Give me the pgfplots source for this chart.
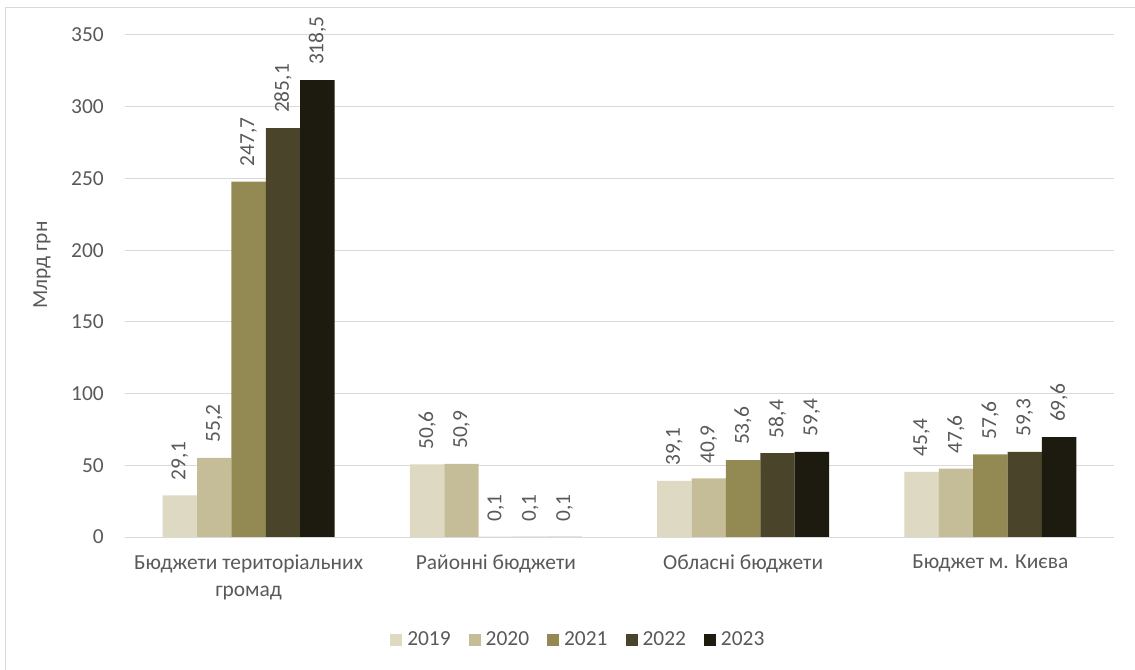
\documentclass[border=0pt]{standalone}
\usepackage{pgfplots}
\pgfplotsset{compat=1.18}
\usepackage{fontspec}
\setmainfont{Carlito}
\definecolor{txt}{HTML}{595959}
\definecolor{gridc}{HTML}{D9D9D9}
\definecolor{c19}{HTML}{DDD9C3}
\definecolor{c20}{HTML}{C4BD97}
\definecolor{c21}{HTML}{938953}
\definecolor{c22}{HTML}{4A452A}
\definecolor{c23}{HTML}{1D1B10}
\newcommand{\chfont}{\fontsize{21.5}{27}\selectfont}
\begin{document}
\chfont
\begin{tikzpicture}
\useasboundingbox (0,0) rectangle (1135bp,670bp);
\draw[gridc, line width=1bp] (5bp,0) -- (5bp,662bp) -- (1135bp,662bp);
\begin{axis}[
    at={(125bp,133bp)}, anchor=south west,
    scale only axis,
    width=989bp, height=502bp,
    ybar=0pt,
    bar width=0.139,
    xmin=-0.5, xmax=3.5,
    ymin=0, ymax=350,
    ytick distance=50,
    xtick=data,
    xticklabels={Бюджети територіальних\\громад, Районні бюджети, Обласні бюджети, Бюджет м. Києва},
    major tick length=0pt,
    axis line style={draw=none},
    ymajorgrids,
    grid style={gridc, line width=1bp},
    /pgf/number format/assume math mode=true,
    /pgf/number format/.cd, use comma, fixed, fixed zerofill, precision=1, 1000 sep={},
    /pgfplots/.cd,
    yticklabel={\pgfmathprintnumber[fixed, precision=0]{\tick}},
    ticklabel style={text=txt, font=\chfont},
    yticklabel style={anchor=east, inner sep=0pt, xshift=-21bp},
    xticklabel style={anchor=north, align=center, inner sep=0pt, yshift=-18bp},
    ylabel={Млрд грн},
    every axis y label/.style={at={(axis description cs:-0.084,0.542)}, anchor=center, rotate=90, text=txt, font=\chfont},
    nodes near coords,
    every node near coord/.append style={rotate=90, anchor=west, inner xsep=15bp, inner ysep=0pt, text=txt, font=\chfont},
    legend columns=-1,
    legend style={at={(axis description cs:0.268,-0.205)}, anchor=west, draw=none, inner sep=0pt,
        font=\chfont, text=txt,
        nodes={inner xsep=5bp, inner ysep=0pt},
        /tikz/every even column/.append style={column sep=13bp}},
    legend image code/.code={\fill[#1, draw=none] (0bp,-6bp) rectangle (12bp,6bp);},
]
\addplot[fill=c19, draw=none] coordinates {(0,29.1) (1,50.6) (2,39.1) (3,45.4)};
\addplot[fill=c20, draw=none] coordinates {(0,55.2) (1,50.9) (2,40.9) (3,47.6)};
\addplot[fill=c21, draw=none] coordinates {(0,247.7) (1,0.1) (2,53.6) (3,57.6)};
\addplot[fill=c22, draw=none] coordinates {(0,285.1) (1,0.1) (2,58.4) (3,59.3)};
\addplot[fill=c23, draw=none] coordinates {(0,318.5) (1,0.1) (2,59.4) (3,69.6)};
\legend{2019,2020,2021,2022,2023}
\end{axis}
\end{tikzpicture}
\end{document}
